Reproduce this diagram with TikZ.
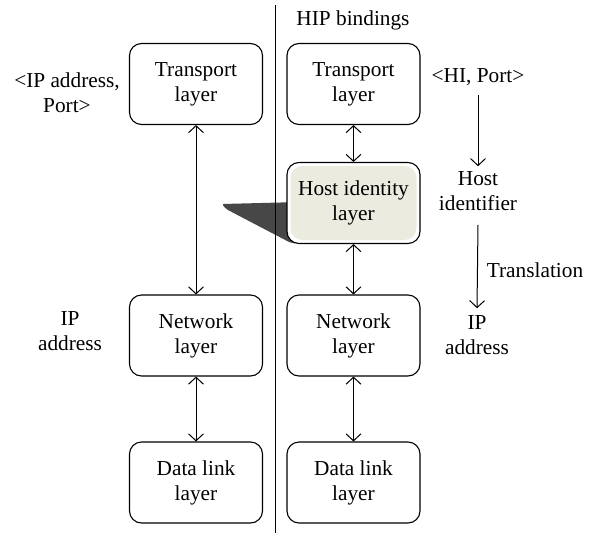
\documentclass[tikz,border=0pt]{standalone}
\usepackage{fontspec}
\setmainfont{Liberation Serif}
\usetikzlibrary{arrows.meta}
\definecolor{hipfill}{HTML}{ECEBDF}
\definecolor{shadowgrey}{HTML}{474747}
\begin{document}
\begin{tikzpicture}[x=1pt,y=-1pt,
  every node/.style={font=\fontsize{21.3}{25}\selectfont, align=center},
  layerbox/.style={draw, line width=1.1pt, rounded corners=12pt, minimum width=133pt, minimum height=81pt, inner sep=0pt, fill=white},
  lbl/.style={inner sep=0pt},
  arr/.style={line width=1pt, -{Straight Barb[length=7pt,width=15pt]}},
  biarr/.style={line width=1pt, {Straight Barb[length=7pt,width=15pt]}-{Straight Barb[length=7pt,width=15pt]}}
]
\useasboundingbox (0,0) rectangle (592,533);

% callout shadow
\fill[shadowgrey, rounded corners=2pt] (222,204) -- (300,202) -- (300,243) -- (291,243) -- (226,209) -- cycle;

% divider
\coordinate (dtop) at (275,5);
\coordinate (dbot) at (275,533);
\draw[line width=0.9pt] (dtop) -- (dbot);

% left stack
\node[layerbox] (ltr) at (196,84) {Transport\\layer};
\node[layerbox] (lnet) at (196,335.5) {Network\\layer};
\node[layerbox] (ldl) at (196,482.5) {Data link\\layer};

% right stack
\node[layerbox] (rtr) at (353.5,84) {Transport\\layer};
\node[layerbox, path picture={\fill[hipfill] ([shift={(3.5pt,-3.5pt)}]path picture bounding box.north west) rectangle ([shift={(-3.5pt,3.5pt)}]path picture bounding box.south east);}] (rhi) at (353.5,203) {Host identity\\layer};
\node[layerbox] (rnet) at (353.5,335.5) {Network\\layer};
\node[layerbox] (rdl) at (353.5,482.5) {Data link\\layer};

% labels
\node[lbl] (lip) at (67,92.5) {<IP address,\\Port>};
\node[lbl] (lipaddr) at (70,331) {IP\\address};
\node[lbl] (hipb) at (353,20) {HIP bindings};
\node[lbl] (hiport) at (478,77) {<HI, Port>};
\node[lbl] (hostid) at (478,191) {Host\\identifier};
\node[lbl] (trans) at (535,270) {Translation};
\node[lbl] (ripaddr) at (477,335) {IP\\address};

% connectors
\draw[biarr] (ltr.south) -- (lnet.north);
\draw[biarr] (lnet.south) -- (ldl.north);
\draw[biarr] (rtr.south) -- (rhi.north);
\draw[biarr] (rhi.south) -- (rnet.north);
\draw[biarr] (rnet.south) -- (rdl.north);
\draw[arr] ([yshift=-9pt]hiport.south) -- ([yshift=5pt]hostid.north);
\draw[arr] ([yshift=-14pt]hostid.south) -- ([yshift=7pt]ripaddr.north);
\end{tikzpicture}
\end{document}
